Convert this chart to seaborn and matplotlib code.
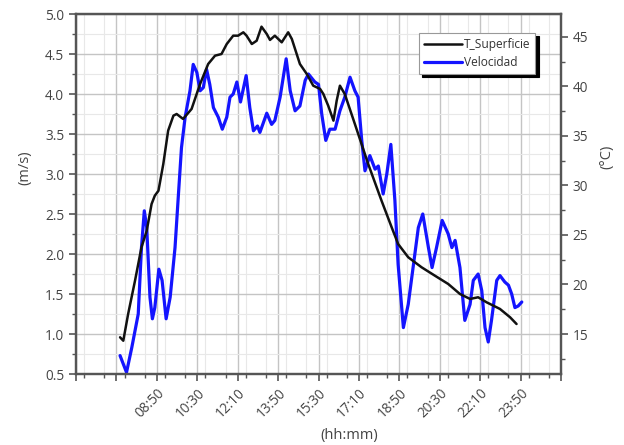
import numpy as np
import pandas as pd
import matplotlib
matplotlib.use("Agg")
import matplotlib.pyplot as plt
from matplotlib.ticker import MultipleLocator, FixedLocator
import seaborn as sns

# ---- data (time in minutes since 00:00) ----
temp_time = [439, 447, 459, 476, 492, 505, 517, 525, 534, 546, 558, 571, 579, 595, 616,
             637, 657, 674, 690, 703, 719, 731, 744, 752, 765, 777, 789, 802, 810, 822,
             839, 855, 864, 876, 884, 901, 917, 934, 942, 954, 967, 975, 983, 995, 1020,
             1053, 1086, 1111, 1127, 1152, 1185, 1218, 1251, 1280, 1305, 1325, 1346, 1379,
             1404, 1420]
temp_val = [14.67, 14.32, 17.02, 20.38, 23.76, 25.43, 28.13, 28.97, 29.47, 32.17, 35.54,
            37.05, 37.22, 36.72, 37.73, 40.25, 42.27, 43.11, 43.28, 44.29, 45.13, 45.13,
            45.47, 45.13, 44.29, 44.62, 46.04, 45.30, 44.70, 45.13, 44.46, 45.47, 44.80,
            43.28, 42.27, 41.26, 40.08, 39.75, 39.24, 38.06, 36.55, 38.57, 40.08, 39.24,
            36.21, 32.17, 28.46, 25.78, 24.09, 22.75, 21.74, 20.89, 20.05, 19.04, 18.54,
            18.71, 18.20, 17.53, 16.69, 16.01]

vel_time = [439, 455, 468, 484, 492, 499, 505, 513, 519, 525, 535, 543, 553, 563, 575,
            583, 591, 600, 612, 620, 629, 637, 645, 653, 661, 670, 682, 692, 703, 711,
            719, 728, 737, 751, 760, 769, 779, 785, 802, 814, 822, 835, 850, 860, 872,
            884, 897, 905, 921, 930, 938, 948, 958, 971, 983, 995, 1008, 1020, 1028,
            1037, 1045, 1057, 1070, 1078, 1090, 1099, 1109, 1119, 1127, 1140, 1152, 1164,
            1177, 1188, 1202, 1211, 1222, 1236, 1251, 1260, 1268, 1280, 1292, 1305, 1313,
            1325, 1334, 1342, 1350, 1358, 1371, 1379, 1391, 1400, 1408, 1416, 1424, 1433]
vel_val = [0.73, 0.52, 0.83, 1.25, 2.08, 2.54, 2.33, 1.46, 1.19, 1.33, 1.81, 1.67, 1.19,
           1.46, 2.08, 2.71, 3.33, 3.71, 4.04, 4.37, 4.27, 4.04, 4.08, 4.31, 4.12, 3.83,
           3.71, 3.56, 3.71, 3.96, 4.00, 4.15, 3.90, 4.23, 3.83, 3.54, 3.60, 3.52, 3.76,
           3.62, 3.67, 3.96, 4.44, 4.04, 3.79, 3.85, 4.17, 4.25, 4.15, 4.12, 3.75, 3.42,
           3.56, 3.56, 3.79, 3.96, 4.21, 4.04, 3.96, 3.42, 3.04, 3.23, 3.06, 3.10, 2.75,
           3.00, 3.37, 2.67, 1.87, 1.08, 1.37, 1.83, 2.33, 2.50, 2.08, 1.83, 2.08, 2.42,
           2.25, 2.08, 2.17, 1.83, 1.17, 1.37, 1.67, 1.75, 1.54, 1.08, 0.90, 1.17, 1.67,
           1.73, 1.65, 1.61, 1.50, 1.33, 1.35, 1.40]

xtick_min = [330, 430, 530, 630, 730, 830, 930, 1030, 1130, 1230, 1330, 1430, 1530]
xtick_labels = ["", "", "08:50", "10:30", "12:10", "13:50", "15:30", "17:10",
                "18:50", "20:30", "22:10", "23:50", ""]

df_t = pd.DataFrame({"t": temp_time, "v": temp_val})
df_v = pd.DataFrame({"t": vel_time, "v": vel_val})

sns.set_style("white")
plt.rcParams["font.family"] = ["Open Sans", "DejaVu Sans"]

fig = plt.figure(figsize=(6.24, 4.45), dpi=100)
ax = fig.add_axes([76/624, 1-374/445, (561-76)/624, (374-14)/445])
ax2 = ax.twinx()

lab_col = "#444444"
spine_col = "#555555"

sns.lineplot(data=df_v, x="t", y="v", ax=ax, color="#1414ff", lw=2.3,
             label="Velocidad", legend=False)
sns.lineplot(data=df_t, x="t", y="v", ax=ax2, color="#111111", lw=1.8,
             label="T_Superficie", legend=False)

ax.set_xlim(330, 1530)
ax.set_ylim(0.5, 5.0)
ax2.set_ylim(10.96, 47.32)

ax.xaxis.set_major_locator(FixedLocator(xtick_min))
ax.set_xticklabels(xtick_labels)
ax.xaxis.set_minor_locator(MultipleLocator(50))
ax.set_yticks(np.arange(0.5, 5.01, 0.5))
ax.set_yticklabels([f"{v:.1f}" for v in np.arange(0.5, 5.01, 0.5)])
ax.yaxis.set_minor_locator(MultipleLocator(0.25))
ax2.yaxis.set_major_locator(MultipleLocator(5))
ax2.yaxis.set_minor_locator(MultipleLocator(2.5))

for lab in ax.get_xticklabels():
    lab.set_rotation(45)
    lab.set_ha("right")
    lab.set_rotation_mode("anchor")

ax.grid(True, which="major", color="#c4c4c4", lw=1.0)
ax.grid(True, which="minor", color="#e8e8e8", lw=0.8)
ax.set_axisbelow(True)
ax2.grid(False)

for a in (ax, ax2):
    for s in a.spines.values():
        s.set_color(spine_col)
        s.set_linewidth(1.6)
ax.tick_params(axis="both", which="major", direction="out", length=5, width=1.2,
               color=spine_col, labelcolor=lab_col, labelsize=9.8, left=True, bottom=True)
ax.tick_params(axis="both", which="minor", direction="out", length=3, width=1.0,
               color=spine_col, left=True, bottom=True)
ax2.tick_params(axis="y", which="major", direction="out", length=5, width=1.2,
                color=spine_col, labelcolor=lab_col, labelsize=9.8, right=True)
ax2.tick_params(axis="y", which="minor", direction="out", length=3, width=1.0,
                color=spine_col, right=True)

ax.set_xlabel("")
ax.set_ylabel("")
ax2.set_ylabel("")
fig.text(25/624, 1-168/445, "(m/s)", rotation=90, ha="center", va="center",
         color=lab_col, fontsize=10.5)
fig.text(607/624, 1-157/445, "(°C)", rotation=90, ha="center", va="center",
         color=lab_col, fontsize=10.5)
fig.text(349/624, 1-435/445, "(hh:mm)", ha="center", va="center",
         color=lab_col, fontsize=10.5)

h1, l1 = ax2.get_legend_handles_labels()
h2, l2 = ax.get_legend_handles_labels()
leg = ax2.legend(h1 + h2, l1 + l2, loc="upper left",
                 bbox_to_anchor=(419/624, 1-33/445), bbox_transform=fig.transFigure,
                 fontsize=8.6, frameon=True, fancybox=False, framealpha=1,
                 edgecolor="#999999", handlelength=3.2, handletextpad=0.15,
                 borderpad=0.4, labelspacing=0.45, borderaxespad=0,
                 shadow={"color": "black", "alpha": 1, "ox": 2.5, "oy": -2.5})
leg.get_frame().set_linewidth(0.8)
for t in leg.get_texts():
    t.set_color("#333333")

fig.savefig("out.png", dpi=100)
